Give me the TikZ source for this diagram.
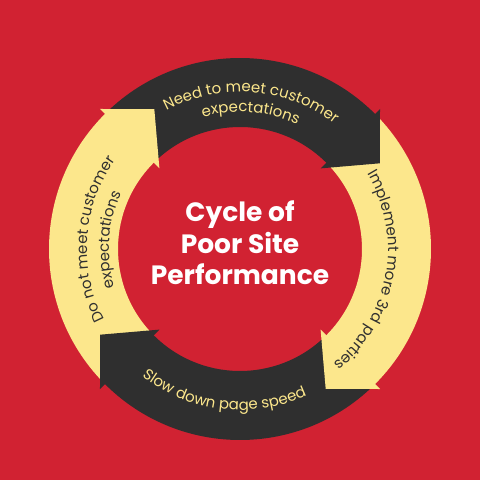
\documentclass[tikz,border=0pt]{standalone}
\usepackage{fontspec}
\setmainfont{Poppins}
\usetikzlibrary{decorations.text}
\definecolor{bgred}{RGB}{209,34,50}
\definecolor{darkc}{RGB}{47,47,47}
\definecolor{yelc}{RGB}{252,231,140}
\newcommand\arcfont{\fontsize{15}{18}\selectfont}
\newcommand\titlefont{\fontsize{26.5}{31}\selectfont\bfseries}
\begin{document}
\begin{tikzpicture}[x=1pt,y=1pt,
  arctext/.style={decorate, decoration={text along path, text align=center, text color=#1}},
  titletext/.style={text=white, font=\titlefont, anchor=base, inner sep=0pt}
]
\fill[bgred] (0,0) rectangle (480,480);
\useasboundingbox (0,0) rectangle (480,480);
\begin{scope}[shift={(240,231)}]
  % ring bodies (seams hidden under the arrow heads)
  \fill[darkc] (134:191) arc[start angle=134,end angle=44,radius=191] -- (44:122) arc[start angle=44,end angle=134,radius=122] -- cycle;
  \fill[yelc] (44:191) arc[start angle=44,end angle=-46,radius=191] -- (-46:122) arc[start angle=-46,end angle=44,radius=122] -- cycle;
  \fill[darkc] (-46:191) arc[start angle=-46,end angle=-136,radius=191] -- (-136:122) arc[start angle=-136,end angle=-46,radius=122] -- cycle;
  \fill[yelc] (224:191) arc[start angle=224,end angle=134,radius=191] -- (134:122) arc[start angle=134,end angle=224,radius=122] -- cycle;
  % arrow heads
  \fill[darkc] (45:198) -- (31.5:164) -- (45:114) -- cycle;
  \fill[yelc] (-45:198) -- (-58.5:164) -- (-45:114) -- cycle;
  \fill[darkc] (-135:198) -- (-148.5:164) -- (-135:114) -- cycle;
  \fill[yelc] (135:198) -- (121.5:164) -- (135:114) -- cycle;
  % arc texts
  \path[arctext=yelc, decoration={text={|\arcfont|Need to meet customer}}] (135.5:157) arc[start angle=135.5,end angle=35.5,radius=157];
  \path[arctext=yelc, decoration={text={|\arcfont|expectations}}] (135.5:137) arc[start angle=135.5,end angle=35.5,radius=137];
  \path[arctext=darkc, decoration={text={|\arcfont|Implement more 3rd parties}}] (45:148) arc[start angle=45,end angle=-65,radius=148];
  \path[arctext=yelc, decoration={text={|\arcfont|Slow down page speed}}] (-151.5:161) arc[start angle=-151.5,end angle=-41.5,radius=161];
  \path[arctext=darkc, decoration={text={|\arcfont|Do not meet customer}}] (231:153) arc[start angle=231,end angle=121,radius=153];
  \path[arctext=darkc, decoration={text={|\arcfont|expectations}}] (231:131) arc[start angle=231,end angle=121,radius=131];
\end{scope}
\node[titletext] (t1) at (240,258.3) {Cycle of};
\node[titletext] (t2) at (240,226.7) {Poor Site};
\node[titletext] (t3) at (240,195) {Performance};
\end{tikzpicture}
\end{document}
